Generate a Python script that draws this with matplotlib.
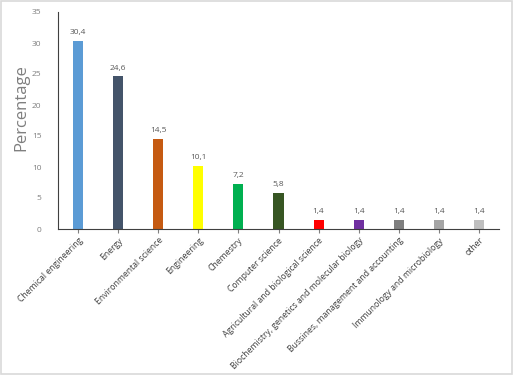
import numpy as np
import matplotlib
matplotlib.use("Agg")
import matplotlib.pyplot as plt
from matplotlib.patches import Rectangle

categories = [
    "Chemical engineering",
    "Energy",
    "Environmental science",
    "Engineering",
    "Chemestry",
    "Computer science",
    "Agricultural and biological science",
    "Biochemistry, genetics and molecular biology",
    "Bussines, management and accounting",
    "Immunology and microbiology",
    "other",
]
values = [30.4, 24.6, 14.5, 10.1, 7.2, 5.8, 1.4, 1.4, 1.4, 1.4, 1.4]
colors = ["#5B9BD5", "#44546A", "#C55A11", "#FFFF00", "#00B050", "#375623",
          "#FF0000", "#7030A0", "#7F7F7F", "#A5A5A5", "#BFBFBF"]

plt.rcParams["font.family"] = ["Open Sans", "DejaVu Sans"]

fig = plt.figure(figsize=(5.13, 3.75), dpi=100)
ax = fig.add_axes([58 / 513, 1 - 229 / 375, 441 / 513, 217 / 375])

x = np.arange(len(categories))
ax.bar(x, values, width=0.25, color=colors)
for xi, v in zip(x, values):
    ax.text(xi, v + 0.8, f"{v:.1f}".replace(".", ","), ha="center", va="bottom",
            fontsize=6, color="#595959")

ax.set_xlim(-0.5, len(categories) - 0.5)
ax.set_ylim(0, 35)
ax.set_yticks(range(0, 36, 5))
ax.tick_params(axis="y", length=0, labelsize=6, labelcolor="#7f7f7f", pad=12)
ax.tick_params(axis="x", length=3, pad=2, color="#7f7f7f", labelsize=6.2,
               labelcolor="#404040")
ax.set_xticks(x)
ax.set_xticklabels(categories, rotation=45, ha="right", rotation_mode="anchor")
for s in ["top", "right"]:
    ax.spines[s].set_visible(False)
for s in ["left", "bottom"]:
    ax.spines[s].set_color("#404040")
ax.set_ylabel("Percentage", fontsize=12, color="#7f7f7f")
ax.yaxis.set_label_coords(-0.082, 0.56)
ax.yaxis.label.set_va("center")

fig.patches.append(Rectangle((0.002, 0.003), 0.996, 0.994, transform=fig.transFigure,
                             fill=False, edgecolor="#d9d9d9", linewidth=1.2))
fig.savefig("out.png", dpi=100)
